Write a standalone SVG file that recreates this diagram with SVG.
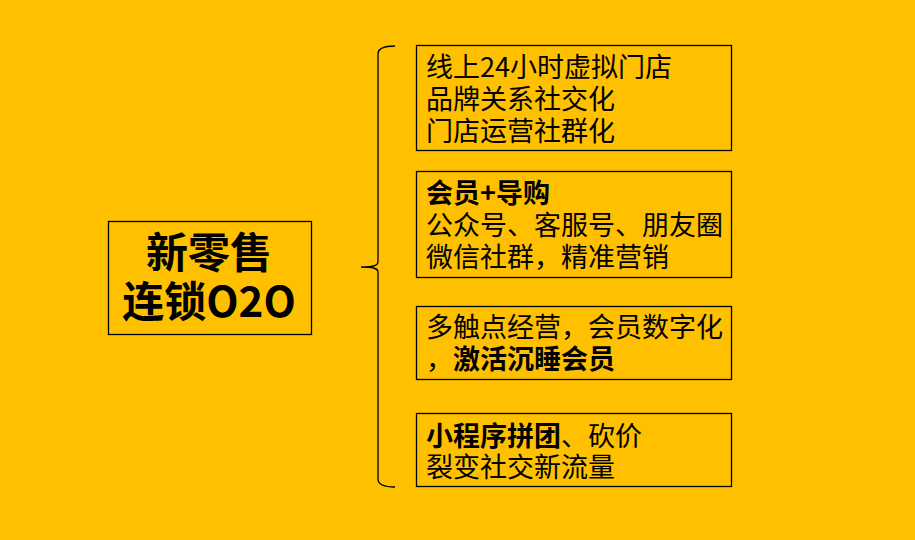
<svg xmlns="http://www.w3.org/2000/svg" width="915" height="540" viewBox="0 0 915 540">
<style>
.box{fill:none;stroke:#000;stroke-width:1.3}
.t{font-family:"Noto Sans CJK SC","Noto Sans",sans-serif;font-size:27px;fill:#000}
.b{font-weight:bold}
.big{font-family:"Noto Sans CJK SC","Noto Sans",sans-serif;font-size:42px;font-weight:bold;fill:#000}
</style>
<rect x="0" y="0" width="915" height="540" fill="#FFC000"/>
<g id="connectors">
<path d="M395,46 C384,46 378,48 378,54 L378,262 C378,266 372,267 361,267 C372,267 378,268 378,272 L378,479 C378,485 384,487 395,487" fill="none" stroke="#000" stroke-width="1.3"/>
</g>
<g id="main">
<rect class="box" x="108.5" y="221.5" width="203" height="113"/>
<text class="big" x="209" y="268" text-anchor="middle">新零售</text>
<text class="big" x="209" y="317" text-anchor="middle">连锁O2O</text>
</g>
<g id="n1">
<rect class="box" x="416.5" y="45.5" width="315" height="105"/>
<text class="t" x="426" y="77">线上24小时虚拟门店</text>
<text class="t" x="426" y="109">品牌关系社交化</text>
<text class="t" x="426" y="141">门店运营社群化</text>
</g>
<g id="n2">
<rect class="box" x="416.5" y="171.5" width="315" height="106"/>
<text class="t b" x="426" y="203">会员+导购</text>
<text class="t" x="426" y="235">公众号、客服号、朋友圈</text>
<text class="t" x="426" y="267">微信社群，精准营销</text>
</g>
<g id="n3">
<rect class="box" x="416.5" y="306.5" width="315" height="73"/>
<text class="t" x="426" y="337">多触点经营，会员数字化</text>
<text class="t" x="426" y="369">，</text>
<text class="t b" x="453" y="369">激活沉睡会员</text>
</g>
<g id="n4">
<rect class="box" x="416.5" y="413.5" width="315" height="73"/>
<text class="t b" x="426" y="446">小程序拼团</text>
<text class="t" x="561" y="446">、砍价</text>
<text class="t" x="426" y="477">裂变社交新流量</text>
</g>
</svg>
